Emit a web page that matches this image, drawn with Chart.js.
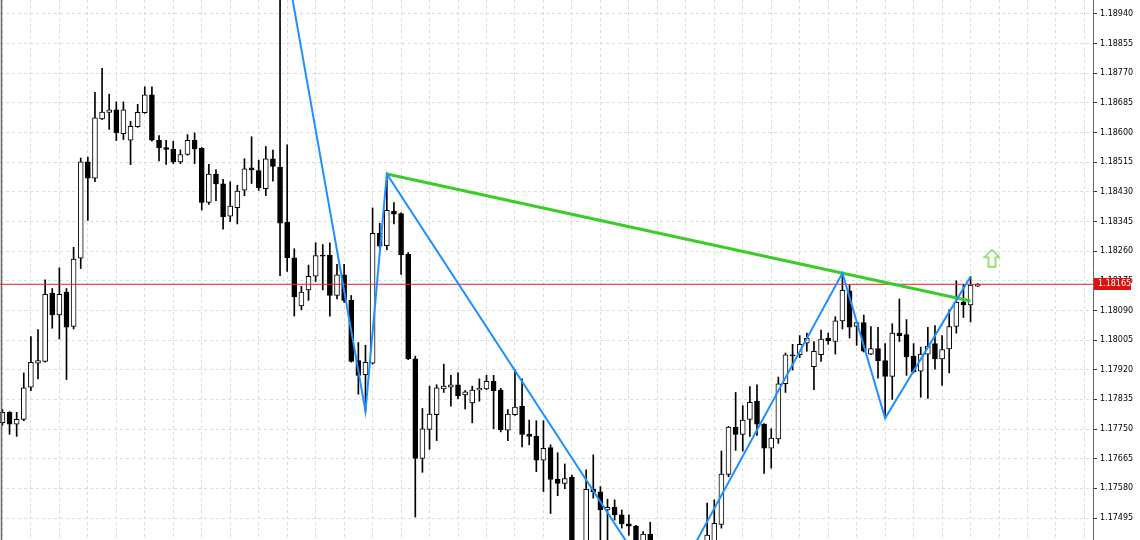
<!DOCTYPE html>
<html>
<head>
<meta charset="utf-8">
<script src="https://cdn.jsdelivr.net/npm/chart.js@4.4.0/dist/chart.umd.min.js"></script>
<style>
  html, body { margin: 0; padding: 0; background: #fff; }
  #chart { display: block; }
</style>
</head>
<body>
<canvas id="chart" width="1140" height="540"></canvas>
<script>
// EURUSD candles (bar 0 = leftmost)
const opens = [
  1.17768, 1.17798, 1.17764, 1.17778, 1.17870, 1.17939, 1.17944, 1.18139, 1.18077, 1.18143,
  1.18044, 1.18240, 1.18516, 1.18469, 1.18639, 1.18658, 1.18665, 1.18597, 1.18578, 1.18617,
  1.18657, 1.18708, 1.18578, 1.18557, 1.18552, 1.18516, 1.18537, 1.18578, 1.18555, 1.18400,
  1.18481, 1.18453, 1.18360, 1.18385, 1.18435, 1.18499, 1.18491, 1.18439, 1.18525, 1.18501,
  1.18343, 1.18241, 1.18103, 1.18149, 1.18188, 1.18249, 1.18249, 1.18133, 1.18192, 1.18119,
  1.17946, 1.17906, 1.17939, 1.18311, 1.18276, 1.18375, 1.18368, 1.18251, 1.17951, 1.17666,
  1.17749, 1.17791, 1.17865, 1.17870, 1.17877, 1.17848, 1.17825, 1.17862, 1.17865, 1.17887,
  1.17862, 1.17747, 1.17791, 1.17816, 1.17735, 1.17729, 1.17661, 1.17697, 1.17606, 1.17594,
  1.17612, 1.17380, 1.17350, 1.17577, 1.17570, 1.17518, 1.17526, 1.17504, 1.17478, 1.17472,
  1.17400, 1.17449, 1.17390, 1.17350, 1.17300, 1.17340, 1.17310, 1.17350, 1.17380, 1.17400,
  1.17410, 1.17477, 1.17620, 1.17756, 1.17735, 1.17778, 1.17830, 1.17764, 1.17695, 1.17722,
  1.17880, 1.17963, 1.17963, 1.17996, 1.17929, 1.17963, 1.18010, 1.18001, 1.18060, 1.18146,
  1.18044, 1.18055, 1.17965, 1.17981, 1.17946, 1.17901, 1.18025, 1.18021, 1.17959, 1.17916,
  1.17965, 1.17995, 1.17951, 1.17980, 1.18044, 1.18114, 1.18106, 1.18160
];
const highs = [
  1.17806, 1.17800, 1.17798, 1.17911, 1.18015, 1.18035, 1.18178, 1.18153, 1.18212, 1.18153,
  1.18271, 1.18527, 1.18530, 1.18715, 1.18784, 1.18710, 1.18688, 1.18688, 1.18632, 1.18681,
  1.18731, 1.18731, 1.18591, 1.18578, 1.18575, 1.18550, 1.18594, 1.18599, 1.18557, 1.18509,
  1.18494, 1.18466, 1.18459, 1.18449, 1.18525, 1.18588, 1.18521, 1.18560, 1.18550, 1.19184,
  1.18565, 1.18267, 1.18159, 1.18220, 1.18284, 1.18279, 1.18284, 1.18222, 1.18222, 1.18133,
  1.17998, 1.17990, 1.18384, 1.18340, 1.18481, 1.18399, 1.18370, 1.18256, 1.17959, 1.17809,
  1.17873, 1.17877, 1.17936, 1.17904, 1.17911, 1.17860, 1.17873, 1.17894, 1.17904, 1.17904,
  1.17867, 1.17806, 1.17921, 1.17894, 1.17776, 1.17774, 1.17774, 1.17705, 1.17682, 1.17650,
  1.17618, 1.17420, 1.17633, 1.17676, 1.17585, 1.17549, 1.17547, 1.17518, 1.17504, 1.17474,
  1.17456, 1.17483, 1.17425, 1.17380, 1.17360, 1.17390, 1.17370, 1.17400, 1.17415, 1.17538,
  1.17547, 1.17687, 1.17758, 1.17855, 1.17817, 1.17872, 1.17877, 1.17766, 1.17751, 1.17899,
  1.17968, 1.17993, 1.18018, 1.18025, 1.18001, 1.18034, 1.18025, 1.18072, 1.18197, 1.18164,
  1.18057, 1.18077, 1.18044, 1.18042, 1.17995, 1.18052, 1.18123, 1.18064, 1.17995, 1.17985,
  1.18042, 1.18047, 1.18018, 1.18092, 1.18175, 1.18165, 1.18187, 1.18167
];
const lows = [
  1.17761, 1.17735, 1.17729, 1.17774, 1.17860, 1.17894, 1.17942, 1.18039, 1.18008, 1.17892,
  1.18037, 1.18210, 1.18348, 1.18459, 1.18637, 1.18609, 1.18577, 1.18580, 1.18508, 1.18615,
  1.18655, 1.18575, 1.18519, 1.18509, 1.18511, 1.18511, 1.18535, 1.18511, 1.18378, 1.18394,
  1.18405, 1.18323, 1.18345, 1.18338, 1.18419, 1.18454, 1.18434, 1.18419, 1.18461, 1.18190,
  1.18202, 1.18074, 1.18092, 1.18119, 1.18173, 1.18149, 1.18074, 1.18123, 1.18113, 1.17942,
  1.17850, 1.17801, 1.17936, 1.18269, 1.18264, 1.18338, 1.18193, 1.17949, 1.17498, 1.17626,
  1.17692, 1.17717, 1.17855, 1.17816, 1.17837, 1.17808, 1.17768, 1.17830, 1.17863, 1.17751,
  1.17742, 1.17717, 1.17789, 1.17699, 1.17705, 1.17628, 1.17571, 1.17508, 1.17559, 1.17579,
  1.17330, 1.17300, 1.17330, 1.17552, 1.17420, 1.17410, 1.17489, 1.17466, 1.17446, 1.17370,
  1.17390, 1.17380, 1.17330, 1.17260, 1.17275, 1.17300, 1.17290, 1.17320, 1.17330, 1.17370,
  1.17390, 1.17466, 1.17613, 1.17689, 1.17687, 1.17729, 1.17732, 1.17623, 1.17638, 1.17709,
  1.17855, 1.17919, 1.17955, 1.17973, 1.17863, 1.17944, 1.17993, 1.17965, 1.18037, 1.18011,
  1.17990, 1.17971, 1.17963, 1.17896, 1.17781, 1.17835, 1.18001, 1.17904, 1.17911, 1.17841,
  1.17838, 1.17922, 1.17875, 1.17911, 1.18025, 1.18070, 1.18057, 1.18159
];
const closes = [
  1.17798, 1.17764, 1.17778, 1.17868, 1.17941, 1.17946, 1.18136, 1.18077, 1.18136, 1.18042,
  1.18237, 1.18516, 1.18469, 1.18642, 1.18659, 1.18665, 1.18599, 1.18665, 1.18618, 1.18658,
  1.18708, 1.18578, 1.18557, 1.18552, 1.18516, 1.18537, 1.18578, 1.18553, 1.18400, 1.18481,
  1.18453, 1.18358, 1.18389, 1.18432, 1.18496, 1.18493, 1.18442, 1.18525, 1.18503, 1.18340,
  1.18241, 1.18129, 1.18143, 1.18188, 1.18247, 1.18246, 1.18133, 1.18192, 1.18119, 1.17944,
  1.17904, 1.17941, 1.18311, 1.18274, 1.18377, 1.18366, 1.18249, 1.17951, 1.17666, 1.17751,
  1.17793, 1.17868, 1.17873, 1.17877, 1.17845, 1.17857, 1.17862, 1.17867, 1.17887, 1.17860,
  1.17748, 1.17793, 1.17813, 1.17735, 1.17729, 1.17661, 1.17695, 1.17606, 1.17594, 1.17608,
  1.17380, 1.17350, 1.17577, 1.17570, 1.17518, 1.17526, 1.17504, 1.17478, 1.17472, 1.17400,
  1.17449, 1.17390, 1.17350, 1.17300, 1.17340, 1.17310, 1.17350, 1.17380, 1.17360, 1.17446,
  1.17480, 1.17621, 1.17756, 1.17735, 1.17776, 1.17827, 1.17764, 1.17695, 1.17724, 1.17880,
  1.17963, 1.17960, 1.17993, 1.18010, 1.17973, 1.18008, 1.18003, 1.18060, 1.18148, 1.18042,
  1.18055, 1.17973, 1.17981, 1.17946, 1.17901, 1.18025, 1.18018, 1.17957, 1.17914, 1.17965,
  1.17988, 1.17951, 1.17978, 1.18044, 1.18113, 1.18106, 1.18163, 1.18165
];

// right price axis labels
const priceTicks = [
  1.17495, 1.17580, 1.17665, 1.17750, 1.17835, 1.17920, 1.18005, 1.18090, 1.18175,
  1.18260, 1.18345, 1.18430, 1.18515, 1.18600, 1.18685, 1.18770, 1.18855, 1.18940
];

// zigzag swings (bar index, price)
const zigzagBars = [39, 51, 54, 93, 118, 124, 136];
const zigzagPrices = [1.19184, 1.17801, 1.18481, 1.17260, 1.18197, 1.17781, 1.18187];

// trendline through the two highs
const trendBars = [54, 136];
const trendPrices = [1.18481, 1.18117];

const bidPrice = 1.18165;
const arrowBar = 139;
const arrowPrice = 1.18240;

const priceMin = 1.17432;
const priceMax = 1.18980;
const barMin = -0.34;
const barMax = 153.2;

const bars = opens.map((o, i) => i);
const upColor = '#ffffff';
const downColor = '#000000';

function makeArrow() {
  const c = document.createElement('canvas');
  c.width = 17;
  c.height = 19;
  const g = c.getContext('2d');
  g.beginPath();
  g.moveTo(8.5, 1);
  g.lineTo(16, 8.5);
  g.lineTo(12, 8.5);
  g.lineTo(12, 18);
  g.lineTo(5, 18);
  g.lineTo(5, 8.5);
  g.lineTo(1, 8.5);
  g.closePath();
  g.fillStyle = '#ffffff';
  g.fill();
  g.strokeStyle = '#7edc4c';
  g.lineWidth = 1.5;
  g.stroke();
  return c;
}

// left frame line and the red bid label on the axis
const extrasPlugin = {
  id: 'extras',
  afterDraw(chart) {
    const ctx = chart.ctx;
    const area = chart.chartArea;
    const y = chart.scales.y;
    ctx.save();
    ctx.strokeStyle = '#666666';
    ctx.lineWidth = 1.5;
    ctx.beginPath();
    ctx.moveTo(area.left + 1.5, area.top);
    ctx.lineTo(area.left + 1.5, area.bottom);
    ctx.stroke();

    const py = y.getPixelForValue(bidPrice);
    ctx.fillStyle = '#e01010';
    ctx.fillRect(y.left + 1, Math.round(py) - 6, 37, 12);
    ctx.fillStyle = '#ffffff';
    ctx.font = '8px "DejaVu Sans"';
    ctx.textBaseline = 'middle';
    ctx.textAlign = 'left';
    ctx.fillText(bidPrice.toFixed(5), y.left + 5, Math.round(py));
    ctx.restore();
  }
};

Chart.defaults.font.family = '"DejaVu Sans", sans-serif';

new Chart(document.getElementById('chart'), {
  type: 'bar',
  data: {
    datasets: [
      {
        label: 'wicks',
        data: bars.map(i => ({x: i, y: [lows[i], highs[i]]})),
        backgroundColor: '#000000',
        barThickness: 1,
        grouped: false,
        order: 6
      },
      {
        label: 'bodies',
        data: bars.map(i => ({x: i, y: [opens[i], closes[i]]})),
        backgroundColor: bars.map(i => closes[i] >= opens[i] ? upColor : downColor),
        borderColor: '#000000',
        borderWidth: 1,
        borderSkipped: false,
        barThickness: 5,
        grouped: false,
        order: 5
      },
      {
        type: 'line',
        label: 'bid',
        data: [{x: -1, y: bidPrice}, {x: 160, y: bidPrice}],
        borderColor: '#e82020',
        borderWidth: 1,
        pointRadius: 0,
        order: 4
      },
      {
        type: 'line',
        label: 'trend',
        data: trendBars.map((b, i) => ({x: b, y: trendPrices[i]})),
        borderColor: '#3ccc2a',
        borderWidth: 3,
        pointRadius: 0,
        order: 3
      },
      {
        type: 'line',
        label: 'zigzag',
        data: zigzagBars.map((b, i) => ({x: b, y: zigzagPrices[i]})),
        borderColor: '#1e90ff',
        borderWidth: 2,
        pointRadius: 0,
        tension: 0,
        order: 2
      },
      {
        type: 'line',
        label: 'signal',
        data: [{x: arrowBar, y: arrowPrice}],
        showLine: false,
        pointStyle: makeArrow(),
        pointRadius: 8,
        order: 1
      }
    ]
  },
  options: {
    responsive: false,
    animation: false,
    devicePixelRatio: 1,
    events: [],
    layout: { padding: 0, autoPadding: false },
    plugins: {
      legend: { display: false },
      tooltip: { enabled: false }
    },
    scales: {
      x: {
        type: 'linear',
        min: barMin,
        max: barMax,
        offset: false,
        ticks: { display: false, stepSize: 4, includeBounds: false },
        grid: { color: '#dcdcdc', drawTicks: false, offset: false },
        border: { display: false, dash: [3, 3] },
        afterFit(scale) { scale.height = 0; }
      },
      y: {
        type: 'linear',
        position: 'right',
        min: priceMin,
        max: priceMax,
        afterBuildTicks(scale) {
          scale.ticks = priceTicks.map(v => ({value: v}));
        },
        ticks: {
          color: '#000000',
          font: { size: 8 },
          padding: 3,
          callback: v => v.toFixed(5)
        },
        grid: { color: '#dcdcdc', tickColor: '#333333', tickLength: 4 },
        border: { display: true, color: '#666666', width: 1, dash: [3, 3] },
        afterFit(scale) {
          scale.width = 47;
          scale.paddingTop = 0;
          scale.paddingBottom = 0;
        }
      }
    }
  },
  plugins: [extrasPlugin]
});
</script>
</body>
</html>
